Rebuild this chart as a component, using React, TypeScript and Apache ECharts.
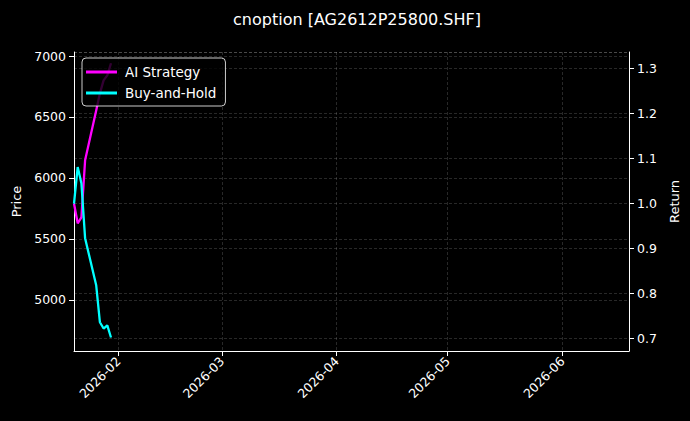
import { useEffect, useRef } from "react";
import * as echarts from "echarts";

const dates = [
  "2026-01-20",
  "2026-01-21",
  "2026-01-22",
  "2026-01-23",
  "2026-01-26",
  "2026-01-27",
  "2026-01-28",
  "2026-01-29",
  "2026-01-30",
];
const aiStrategy = [1.0, 0.956, 0.969, 1.096, 1.207, 1.245, 1.274, 1.285, 1.312];
const buyAndHold = [1.0, 1.081, 1.045, 0.923, 0.818, 0.736, 0.722, 0.729, 0.702];
const monthTicks = ["2026-02-01", "2026-03-01", "2026-04-01", "2026-05-01", "2026-06-01"];

const FONT = "DejaVu Sans";
const GRID_LINE = { show: true, lineStyle: { color: "rgba(255,255,255,0.2)", width: 0.8, type: [3, 2] as any } };

const ts = (d: string) => Date.UTC(+d.slice(0, 4), +d.slice(5, 7) - 1, +d.slice(8, 10));

export default function App() {
  const chartRef = useRef<HTMLDivElement>(null);

  useEffect(() => {
    document.body.style.margin = "0";
    document.body.style.background = "#000";
    if (!chartRef.current) return;
    const chart = echarts.init(chartRef.current, undefined, { renderer: "svg" });

    const tickValues = monthTicks.map(ts);

    chart.setOption({
      animation: false,
      backgroundColor: "#000",
      textStyle: { fontFamily: FONT },
      title: {
        text: "cnoption [AG2612P25800.SHF]",
        left: 352,
        top: 6,
        textAlign: "center",
        textStyle: { color: "#fff", fontSize: 16, fontWeight: "normal", fontFamily: FONT },
      },
      grid: { left: 74, right: 61, top: 52, bottom: 70 },
      legend: {
        z: 20,
        orient: "vertical",
        left: 82,
        top: 58,
        padding: [7, 9, 6, 4],
        itemGap: 7,
        itemWidth: 31,
        itemHeight: 3,
        backgroundColor: "rgba(0,0,0,0.8)",
        borderColor: "rgba(255,255,255,0.8)",
        borderWidth: 1,
        borderRadius: 4,
        textStyle: { color: "#fff", fontSize: 13.5, fontFamily: FONT, padding: [0, 0, 0, 3] },
        icon: "rect",
        data: ["AI Strategy", "Buy-and-Hold"],
      },
      xAxis: {
        type: "value",
        min: ts("2026-01-20"),
        max: ts("2026-06-19"),
        axisLine: { lineStyle: { color: "#fff", width: 1 } },
        axisTick: { show: true, length: 5, customValues: tickValues, lineStyle: { color: "#fff" } },
        axisLabel: {
          customValues: tickValues,
          rotate: 45,
          color: "#fff",
          fontSize: 12.5,
          fontFamily: FONT,
          formatter: (v: number) => {
            const d = new Date(v);
            return d.getUTCFullYear() + "-" + String(d.getUTCMonth() + 1).padStart(2, "0");
          },
        },
        splitLine: GRID_LINE,
      },
      yAxis: [
        {
          type: "value",
          name: "Price",
          nameLocation: "middle",
          nameGap: 49,
          nameTextStyle: { color: "#fff", fontSize: 13, fontFamily: FONT },
          min: 4580,
          max: 7033,
          splitNumber: 5,
          axisLine: { show: true, lineStyle: { color: "#fff" } },
          axisTick: { show: true, length: 5, lineStyle: { color: "#fff" } },
          axisLabel: {
            color: "#fff",
            fontSize: 12.5,
            fontFamily: FONT,
            showMinLabel: false,
            showMaxLabel: false,
            formatter: (v: number) => String(v),
          },
          splitLine: GRID_LINE,
        },
        {
          type: "value",
          name: "Return",
          nameLocation: "middle",
          nameGap: 37,
          nameTextStyle: { color: "#fff", fontSize: 13, fontFamily: FONT },
          min: 0.672,
          max: 1.337,
          splitNumber: 7,
          position: "right",
          axisLine: { show: true, lineStyle: { color: "#fff" } },
          axisTick: { show: true, length: 5, lineStyle: { color: "#fff" } },
          axisLabel: {
            color: "#fff",
            fontSize: 12.5,
            fontFamily: FONT,
            showMinLabel: false,
            showMaxLabel: false,
            formatter: (v: number) => v.toFixed(1),
          },
          splitLine: GRID_LINE,
        },
      ],
      series: [
        {
          name: "AI Strategy",
          type: "line",
          yAxisIndex: 1,
          z: 2,
          showSymbol: false,
          color: "#ff00ff",
          lineStyle: { width: 2.3, color: "#ff00ff" },
          data: dates.map((d, i) => [ts(d), aiStrategy[i]]),
        },
        {
          name: "Buy-and-Hold",
          type: "line",
          yAxisIndex: 1,
          z: 2,
          showSymbol: false,
          color: "#00ffff",
          lineStyle: { width: 2.3, color: "#00ffff" },
          data: dates.map((d, i) => [ts(d), buyAndHold[i]]),
        },
      ],
    });

    return () => {
      chart.dispose();
    };
  }, []);

  return <div ref={chartRef} style={{ width: "690px", height: "421px" }} />;
}
